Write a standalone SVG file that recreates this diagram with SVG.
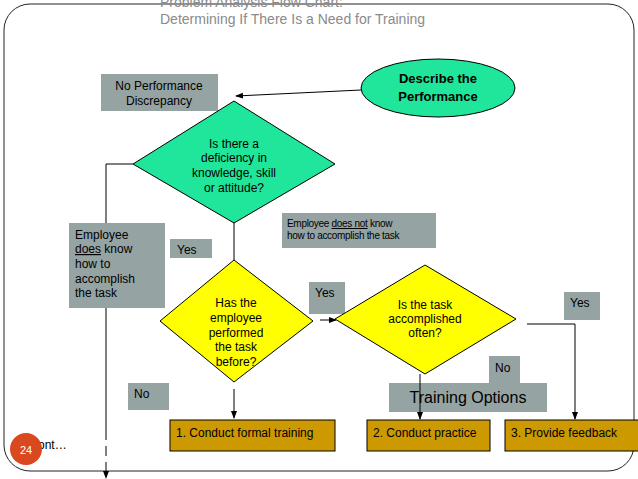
<svg xmlns="http://www.w3.org/2000/svg" width="638" height="479" viewBox="0 0 638 479">
<style>
text{font-family:"Liberation Sans",Arial,sans-serif;font-size:12px;fill:#000}
.g{fill:#95a3a3}
.gr{fill:#1fe69a;stroke:#000;stroke-width:1}
.y{fill:#ffff00;stroke:#000;stroke-width:1}
.o{fill:#cc9900;stroke:#000;stroke-width:1}
.c{stroke:#000;stroke-width:1;fill:none}
.m{text-anchor:middle}
</style>
<defs><marker id="a" markerWidth="8" markerHeight="8" refX="7" refY="4" orient="auto" markerUnits="userSpaceOnUse"><path d="M0,1 L8,4 L0,7 z" fill="#000"/></marker></defs>
<rect x="4" y="4" width="630" height="467" rx="26" fill="#fff" stroke="#222" stroke-width="1"/>
<text x="160" y="7" style="font-size:14px;fill:#8a8a8a">Problem Analysis Flow Chart:</text>
<text x="160" y="24" style="font-size:14px;fill:#8a8a8a">Determining If There Is a Need for Training</text>
<g id="connectors">
<line class="c" x1="361" y1="90" x2="236" y2="96" marker-end="url(#a)"/>
<polyline class="c" points="133,164 106,164 106,223"/>
<line class="c" x1="106" y1="308" x2="106" y2="430"/>
<line class="c" x1="106" y1="430" x2="106" y2="478" stroke-dasharray="10,6" marker-end="url(#a)"/>
<line class="c" x1="234" y1="223" x2="234" y2="260"/>
<line class="c" x1="320" y1="320" x2="336" y2="320" marker-end="url(#a)"/>
<line class="c" x1="234" y1="389" x2="234" y2="418" marker-end="url(#a)"/>
<polyline class="c" points="527,324 575,324 575,419" marker-end="url(#a)"/>
</g>
<g id="noperf"><rect class="g" x="101" y="74" width="117" height="37"/><text class="m" x="159" y="90">No Performance</text><text class="m" x="159" y="105">Discrepancy</text></g>
<g id="describe"><ellipse class="gr" cx="438" cy="88" rx="77" ry="29"/><text class="m" x="438" y="83" style="font-weight:bold;font-size:13px">Describe the</text><text class="m" x="438" y="101" style="font-weight:bold;font-size:13px">Performance</text></g>
<g id="d1"><polygon class="gr" points="234,101 335,164 234,223 133,164"/><text class="m" x="234" y="148">Is there a</text><text class="m" x="234" y="162">deficiency in</text><text class="m" x="234" y="177">knowledge, skill</text><text class="m" x="234" y="192">or attitude?</text></g>
<g id="does"><rect class="g" x="69" y="223" width="96" height="85"/><text x="75" y="239">Employee</text><text x="75" y="253"><tspan text-decoration="underline">does</tspan> know</text><text x="75" y="268">how to</text><text x="75" y="283">accomplish</text><text x="75" y="297">the task</text></g>
<g id="yes1"><rect class="g" x="170" y="239" width="42" height="19"/><text x="177" y="254">Yes</text></g>
<g id="doesnot"><rect class="g" x="282" y="213" width="154" height="35" /><text x="287" y="227" style="font-size:10px;letter-spacing:-0.3px">Employee <tspan text-decoration="underline">does not</tspan> know</text><text x="287" y="239" style="font-size:10px;letter-spacing:-0.3px">how to accomplish the task</text></g>
<g id="d2"><polygon class="y" points="234,260 313,321 234,382 160,321"/><text class="m" x="236" y="307">Has the</text><text class="m" x="236" y="322">employee</text><text class="m" x="236" y="337">performed</text><text class="m" x="236" y="351">the task</text><text class="m" x="236" y="366">before?</text></g>
<g id="yes2"><rect class="g" x="309" y="282" width="36" height="32"/><text x="315" y="297">Yes</text></g>
<g id="d3"><polygon class="y" points="425,265 516,319 425,374 335,319"/><text class="m" x="425" y="309">Is the task</text><text class="m" x="425" y="323">accomplished</text><text class="m" x="425" y="337">often?</text></g>
<g id="yes3"><rect class="g" x="564" y="292" width="36" height="28"/><text x="570" y="307">Yes</text></g>
<g id="no1"><rect class="g" x="489" y="356" width="31" height="29"/><text x="495" y="372">No</text></g>
<g id="options"><rect class="g" x="389" y="383" width="158" height="29"/><text class="m" x="468" y="403" style="font-size:16px">Training Options</text></g>
<line class="c" x1="420" y1="374" x2="420" y2="419" marker-end="url(#a)"/>
<g id="no2"><rect class="g" x="128" y="383" width="41" height="27"/><text x="134" y="398">No</text></g>
<g id="t1"><rect class="o" x="170" y="420" width="165" height="31"/><text x="176" y="437">1. Conduct formal training</text></g>
<g id="t2"><rect class="o" x="367" y="420" width="123" height="31"/><text x="373" y="437">2. Conduct practice</text></g>
<g id="t3"><rect class="o" x="505" y="420" width="135" height="31"/><text x="511" y="437">3. Provide feedback</text></g>
<text x="32" y="449">cont…</text>
<circle cx="26" cy="449" r="16" fill="#d9481f"/>
<text class="m" x="26" y="454" style="font-size:11px;fill:#fff">24</text>
</svg>
